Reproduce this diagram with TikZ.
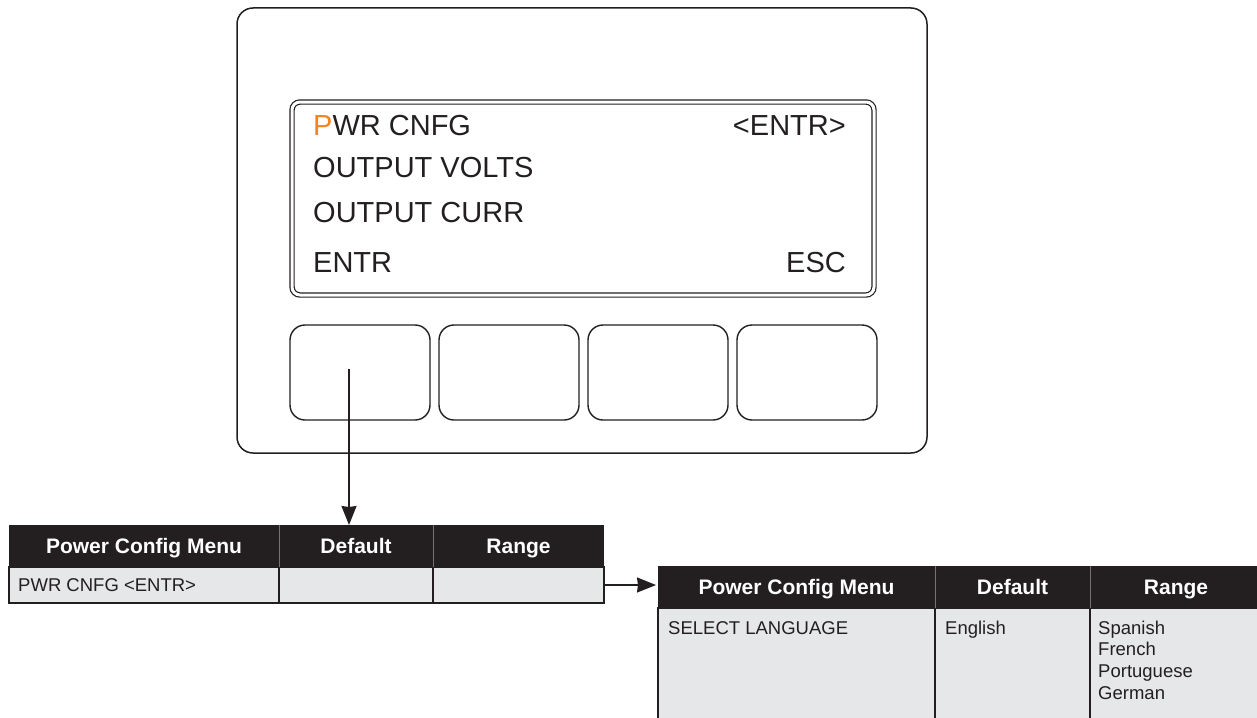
\documentclass[tikz,border=0pt]{standalone}
\usepackage{fontspec}
\setmainfont{Liberation Sans}
\usepackage{xcolor}
\usetikzlibrary{arrows.meta}

\definecolor{hdrdark}{HTML}{231F20}
\definecolor{cellgray}{HTML}{E6E7E8}
\definecolor{cursor}{HTML}{F58220}

\tikzset{
  panel/.style={draw=hdrdark, line width=1.5pt, rounded corners=16pt, inner sep=0pt, outer sep=0pt, anchor=north west},
  lcd/.style={draw=hdrdark, double=white, double distance=3pt, line width=1.2pt, rounded corners=8pt, inner sep=0pt, outer sep=0pt, anchor=north west},
  softkey/.style={draw=hdrdark, line width=1.4pt, rounded corners=15pt, minimum width=140pt, minimum height=95pt, inner sep=0pt, outer sep=0pt, anchor=north west},
  lcdtext/.style={inner sep=0pt, text height=21pt, text depth=0pt, font=\fontsize{29}{34}\selectfont, text=hdrdark},
  hdrcell/.style={fill=hdrdark, inner sep=0pt, outer sep=0pt, minimum height=42pt, anchor=north west, text height=15pt, text depth=0pt, text=white, font=\bfseries\fontsize{21}{25}\selectfont},
  bodycell/.style={fill=cellgray, draw=hdrdark, line width=1.5pt, inner sep=0pt, outer sep=0pt, anchor=north west},
  celltext/.style={inner sep=0pt, font=\fontsize{18.5}{22}\selectfont, text=hdrdark},
  colsep/.style={draw=black!55, line width=0.6pt},
  link/.style={draw=hdrdark, line width=1.5pt, -{Stealth[length=19pt,width=15pt,inset=1pt]}},
}

\begin{document}
\begin{tikzpicture}[x=1pt, y=-1pt]
        \useasboundingbox (0,0) rectangle (1257,717);

        % Front panel and display
        \node[panel, minimum width=690pt, minimum height=445pt] (front) at (237,8) {};
        \node[lcd, minimum width=582pt, minimum height=193pt] (lcd) at (292,102) {};

        % Display lines
        \node[lcdtext, anchor=west] (line1) at (313,125) {\textcolor{cursor}{P}WR CNFG};
        \node[lcdtext, anchor=east] (line1r) at (846,125) {<ENTR>};
        \node[lcdtext, anchor=west] (line2) at (313,167) {OUTPUT VOLTS};
        \node[lcdtext, anchor=west] (line3) at (313,212) {OUTPUT CURR};
        \node[lcdtext, anchor=west] (line4) at (313,262) {ENTR};
        \node[lcdtext, anchor=east] (line4r) at (846,262) {ESC};

        % Soft keys
        \foreach \k/\x in {1/290, 2/439, 3/588, 4/737}
            \node[softkey] (key\k) at (\x,325) {};

        % Table 1: header and row
        \node[hdrcell, minimum width=270pt] (ta-menu) at (9,525) {Power Config Menu};
        \node[hdrcell, minimum width=154pt] (ta-def) at (ta-menu.north east) {Default};
        \node[hdrcell, minimum width=171pt] (ta-rng) at (ta-def.north east) {Range};
        \node[bodycell, minimum width=270pt, minimum height=36pt] (ta-menu-r) at (ta-menu.south west) {};
        \node[bodycell, minimum width=154pt, minimum height=36pt] (ta-def-r) at (ta-def.south west) {};
        \node[bodycell, minimum width=171pt, minimum height=36pt] (ta-rng-r) at (ta-rng.south west) {};
        \draw[colsep] (ta-def.north west) -- (ta-def.south west);
        \draw[colsep] (ta-rng.north west) -- (ta-rng.south west);
        \node[celltext, anchor=west] (ta-txt) at ([xshift=9pt]ta-menu-r.west) {PWR CNFG <ENTR>};

        % Table 2: header and row
        \node[hdrcell, minimum width=277pt] (tb-menu) at (658,566) {Power Config Menu};
        \node[hdrcell, minimum width=155pt] (tb-def) at (tb-menu.north east) {Default};
        \node[hdrcell, minimum width=172pt] (tb-rng) at (tb-def.north east) {Range};
        \node[bodycell, minimum width=277pt, minimum height=112pt] (tb-menu-r) at (tb-menu.south west) {};
        \node[bodycell, minimum width=155pt, minimum height=112pt] (tb-def-r) at (tb-def.south west) {};
        \node[bodycell, minimum width=172pt, minimum height=112pt] (tb-rng-r) at (tb-rng.south west) {};
        \draw[colsep] (tb-def.north west) -- (tb-def.south west);
        \draw[colsep] (tb-rng.north west) -- (tb-rng.south west);
        \node[celltext, anchor=base west] (tb-txt) at ([shift={(10pt,-26pt)}]tb-menu-r.north west) {SELECT LANGUAGE};
        \node[celltext, anchor=base west] (tb-eng) at ([shift={(10pt,-26pt)}]tb-def-r.north west) {English};
        \foreach \lang [count=\i from 0] in {Spanish, French, Portuguese, German}
            \node[celltext, anchor=base west] (lang\i) at ([shift={({8pt},{-26pt-21.7pt*\i})}]tb-rng-r.north west) {\lang};

        % Connectors
        \coordinate (press) at (349,369);
        \draw[link] (press) -- (press |- ta-def.north);
        \draw[link, shorten >=2pt] (ta-rng-r.east) -- (tb-menu.west |- ta-rng-r.east);
\end{tikzpicture}
\end{document}
